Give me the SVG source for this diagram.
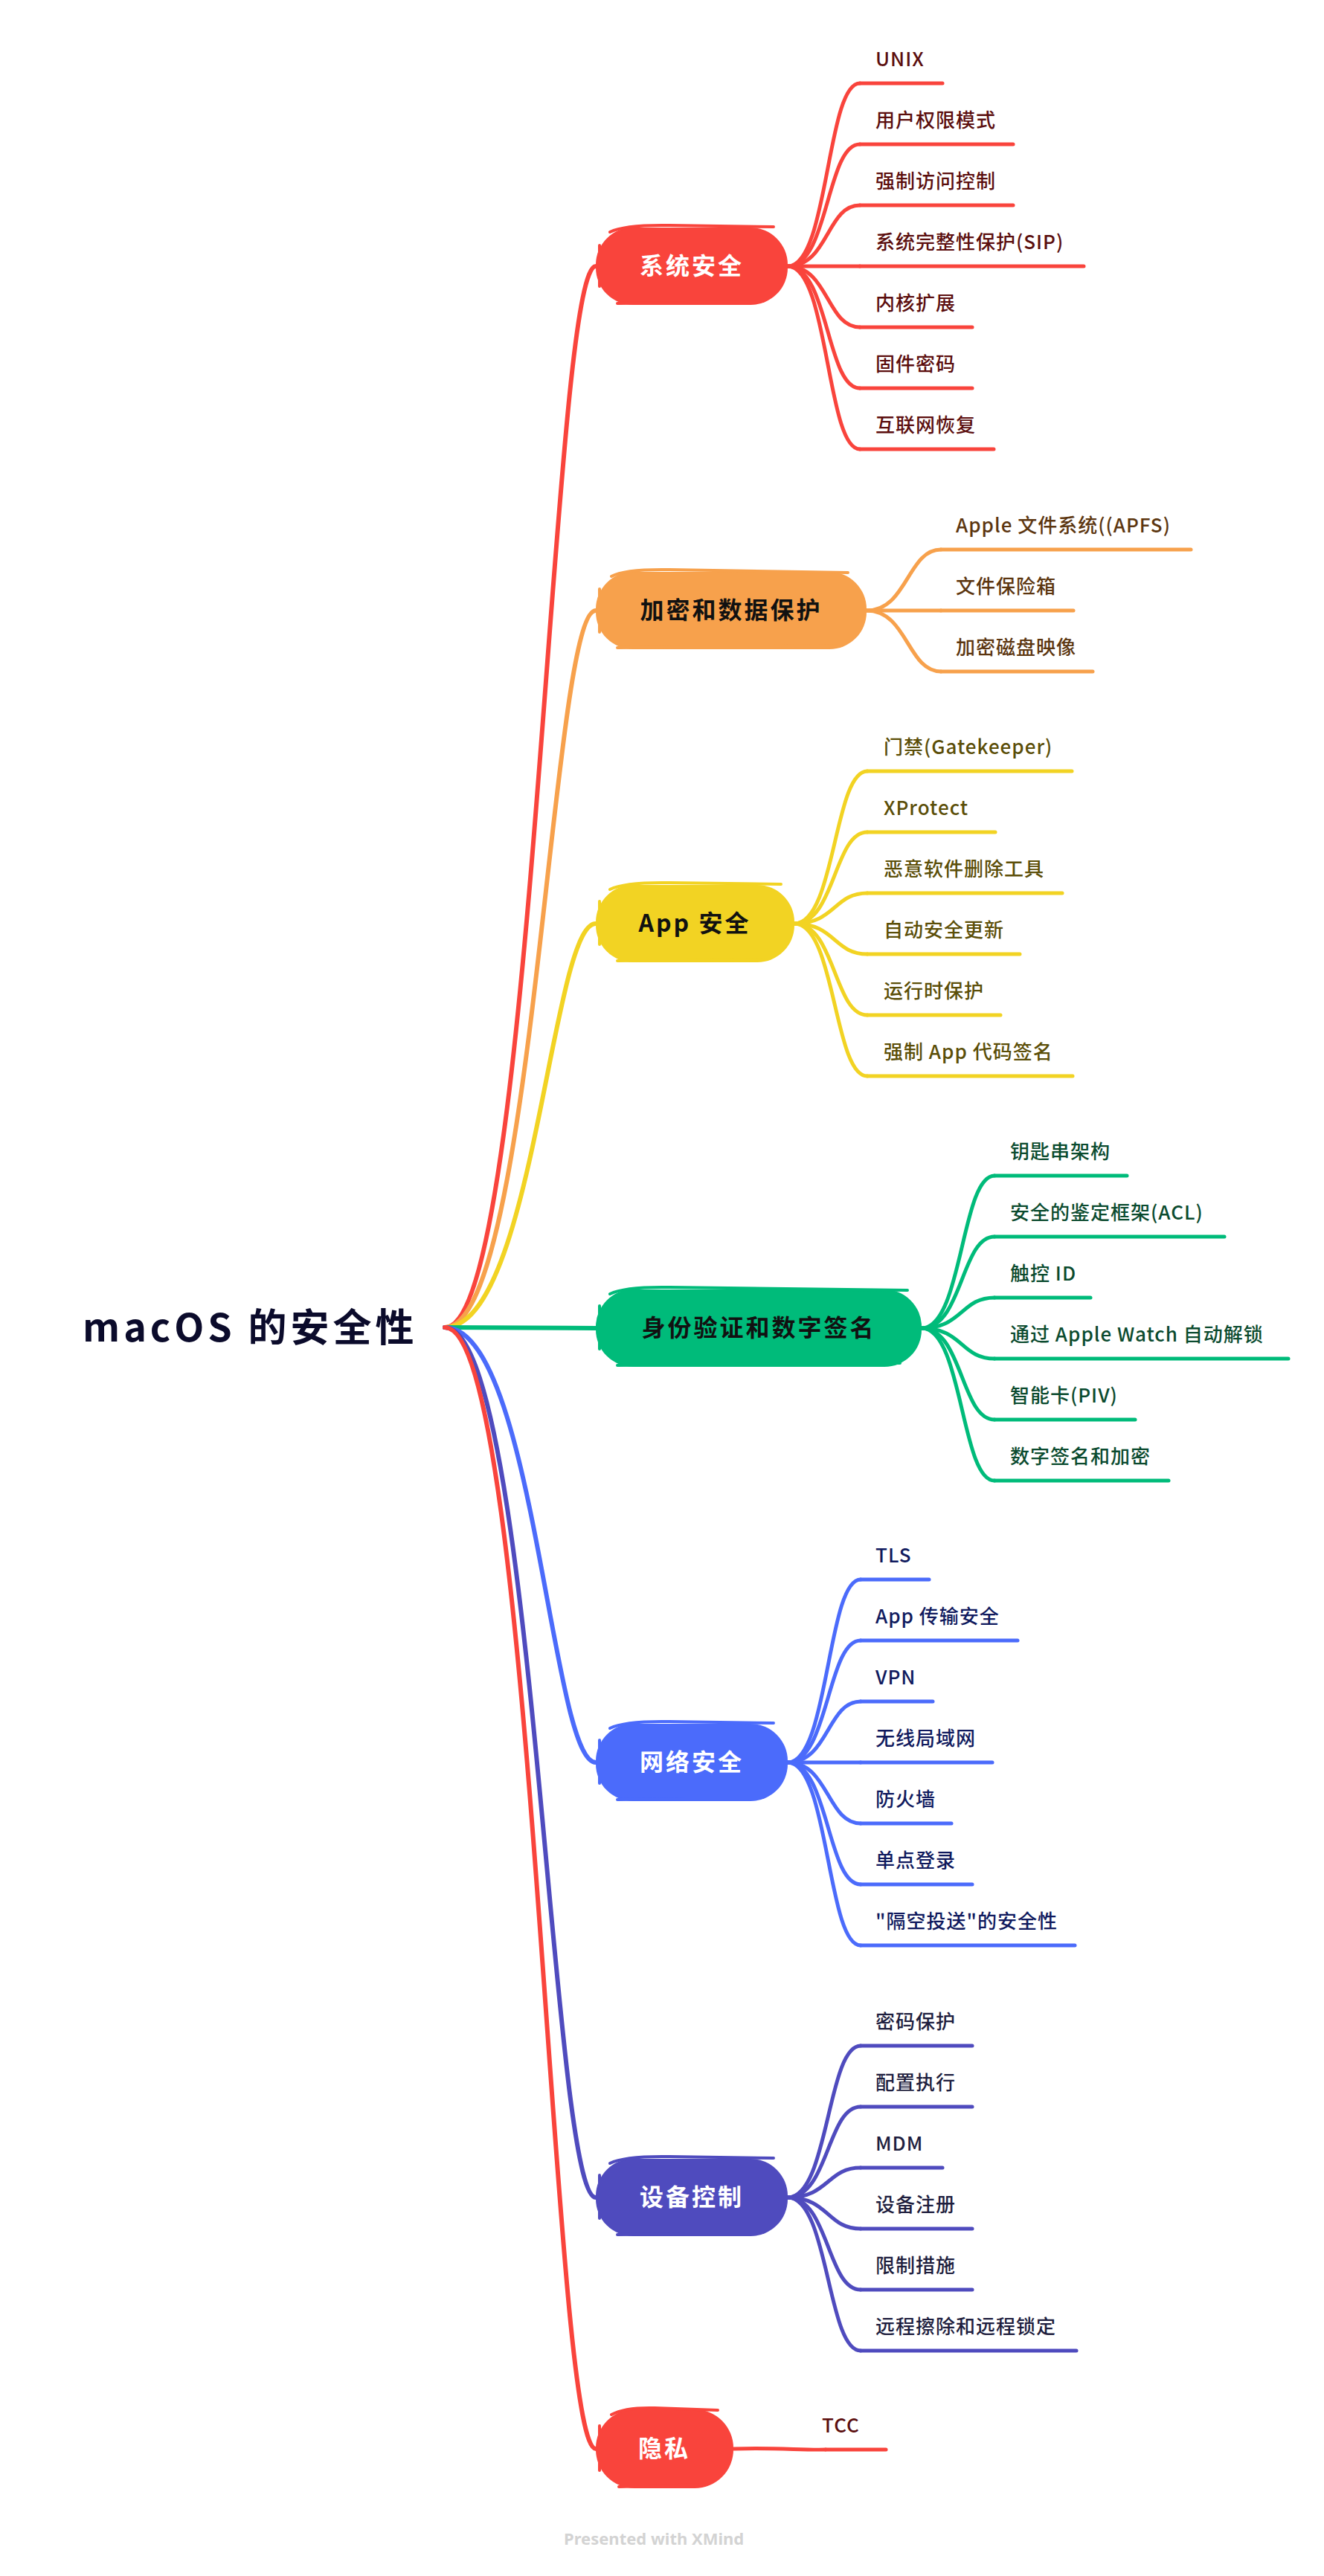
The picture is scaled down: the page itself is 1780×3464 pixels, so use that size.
<svg xmlns="http://www.w3.org/2000/svg" width="1780" height="3464" viewBox="0 0 1780 3464">
<style>
.bg{fill:#ffffff}
.main{fill:none;stroke-width:6;stroke-linecap:round;stroke-linejoin:round}
.sub{fill:none;stroke-width:5;stroke-linecap:round;stroke-linejoin:round}
.ul{stroke-width:5;stroke-linecap:round}
.sk{fill:none;stroke-width:4;stroke-linecap:round}
.nt{font-family:"Noto Sans CJK SC","Noto Sans",sans-serif;font-size:32px;font-weight:700;letter-spacing:3px;text-anchor:middle}
.ct{font-family:"Noto Sans CJK SC","Noto Sans",sans-serif;font-size:26px;font-weight:500;letter-spacing:1px}
.root{font-family:"Noto Sans CJK SC","Noto Sans",sans-serif;font-size:52px;font-weight:700;letter-spacing:5px;fill:#0b0b2b}
.foot{font-family:"Noto Sans","Noto Sans CJK SC",sans-serif;font-size:22px;font-weight:700;fill:#d3d3d3}
.red{stroke:#F9443C}.redf{fill:#F9443C}
.org{stroke:#F7A14C}.orgf{fill:#F7A14C}
.yel{stroke:#F2D323}.yelf{fill:#F2D323}
.grn{stroke:#00BB7A}.grnf{fill:#00BB7A}
.blu{stroke:#4B6BFB}.bluf{fill:#4B6BFB}
.ind{stroke:#4F4BBE}.indf{fill:#4F4BBE}
.tsys{fill:#5B0E0E}.tenc{fill:#5C3610}.tapp{fill:#5B4E08}.tid{fill:#0B4B2F}.tnet{fill:#101A5E}.tdev{fill:#1E1E3E}
.w{fill:#ffffff}.k{fill:#111111}
</style>
<rect class="bg" x="0" y="0" width="1780" height="3464"/>

<g id="connectors">
  <!-- root to main topics -->
  <path class="main red" d="M598,1785 C718,1785 741,358 801,358"/>
  <path class="main org" d="M598,1785 C718,1785 741,821 801,821"/>
  <path class="main yel" d="M598,1785 C718,1785 741,1242 801,1242"/>
  <path class="main grn" d="M598,1785 L801,1786"/>
  <path class="main blu" d="M598,1785 C718,1785 741,2370 801,2370"/>
  <path class="main ind" d="M598,1785 C718,1785 741,2955 801,2955"/>
  <path class="main red" d="M598,1785 C718,1785 741,3293 801,3293"/>

  <!-- system security -->
  <path class="sub red" d="M1059,358 C1114,358 1111,112 1156,112"/>
  <path class="sub red" d="M1059,358 C1114,358 1111,194 1156,194"/>
  <path class="sub red" d="M1059,358 C1114,358 1111,276 1156,276"/>
  <path class="sub red" d="M1059,358 L1156,358"/>
  <path class="sub red" d="M1059,358 C1114,358 1111,440 1156,440"/>
  <path class="sub red" d="M1059,358 C1114,358 1111,522 1156,522"/>
  <path class="sub red" d="M1059,358 C1114,358 1111,604 1156,604"/>

  <!-- encryption -->
  <path class="sub org" d="M1165,821 C1220,821 1220,739 1265,739"/>
  <path class="sub org" d="M1165,821 L1265,821"/>
  <path class="sub org" d="M1165,821 C1220,821 1220,903 1265,903"/>

  <!-- app security -->
  <path class="sub yel" d="M1068,1242 C1123,1242 1121,1037 1166,1037"/>
  <path class="sub yel" d="M1068,1242 C1123,1242 1121,1119 1166,1119"/>
  <path class="sub yel" d="M1068,1242 C1123,1242 1121,1201 1166,1201"/>
  <path class="sub yel" d="M1068,1242 C1123,1242 1121,1283 1166,1283"/>
  <path class="sub yel" d="M1068,1242 C1123,1242 1121,1365 1166,1365"/>
  <path class="sub yel" d="M1068,1242 C1123,1242 1121,1447 1166,1447"/>

  <!-- identity -->
  <path class="sub grn" d="M1239,1786 C1294,1786 1292,1581 1337,1581"/>
  <path class="sub grn" d="M1239,1786 C1294,1786 1292,1663 1337,1663"/>
  <path class="sub grn" d="M1239,1786 C1294,1786 1292,1745 1337,1745"/>
  <path class="sub grn" d="M1239,1786 C1294,1786 1292,1827 1337,1827"/>
  <path class="sub grn" d="M1239,1786 C1294,1786 1292,1909 1337,1909"/>
  <path class="sub grn" d="M1239,1786 C1294,1786 1292,1991 1337,1991"/>

  <!-- network -->
  <path class="sub blu" d="M1059,2370 C1114,2370 1112,2124 1157,2124"/>
  <path class="sub blu" d="M1059,2370 C1114,2370 1112,2206 1157,2206"/>
  <path class="sub blu" d="M1059,2370 C1114,2370 1112,2288 1157,2288"/>
  <path class="sub blu" d="M1059,2370 L1157,2370"/>
  <path class="sub blu" d="M1059,2370 C1114,2370 1112,2452 1157,2452"/>
  <path class="sub blu" d="M1059,2370 C1114,2370 1112,2534 1157,2534"/>
  <path class="sub blu" d="M1059,2370 C1114,2370 1112,2616 1157,2616"/>

  <!-- device -->
  <path class="sub ind" d="M1059,2955 C1114,2955 1112,2751 1157,2751"/>
  <path class="sub ind" d="M1059,2955 C1114,2955 1112,2833 1157,2833"/>
  <path class="sub ind" d="M1059,2955 C1114,2955 1112,2915 1157,2915"/>
  <path class="sub ind" d="M1059,2955 C1114,2955 1112,2997 1157,2997"/>
  <path class="sub ind" d="M1059,2955 C1114,2955 1112,3079 1157,3079"/>
  <path class="sub ind" d="M1059,2955 C1114,2955 1112,3161 1157,3161"/>

  <!-- privacy -->
  <path class="sub red" d="M986,3293 C1040,3291 1080,3295 1110,3294"/>
</g>

<g id="root">
  <text class="root" x="111" y="1804">macOS 的安全性</text>
</g>

<!-- main topics -->
<g id="n-system">
  <rect class="redf" x="801" y="306" width="258" height="104" rx="50"/>
  <path class="sk red" d="M820,312 Q840,302 900,303 L1040,305 M806,330 L806,385 M830,408 L1020,406"/>
  <text class="nt w" x="930" y="369">系统安全</text>
</g>
<g id="n-encrypt">
  <rect class="orgf" x="801" y="769" width="364" height="104" rx="50"/>
  <path class="sk org" d="M822,775 Q840,765 900,766 L1140,770 M806,792 L806,850 M830,871 L1130,868"/>
  <text class="nt k" x="983" y="832">加密和数据保护</text>
</g>
<g id="n-app">
  <rect class="yelf" x="801" y="1190" width="267" height="104" rx="50"/>
  <path class="sk yel" d="M820,1196 Q840,1186 900,1187 L1050,1189 M806,1212 L806,1270 M830,1292 L1030,1290"/>
  <text class="nt k" x="934" y="1253">App 安全</text>
</g>
<g id="n-identity">
  <rect class="grnf" x="801" y="1734" width="438" height="104" rx="50"/>
  <path class="sk grn" d="M820,1740 Q840,1730 900,1731 L1220,1735 M806,1756 L806,1814 M830,1836 L1210,1833"/>
  <text class="nt k" x="1020" y="1797">身份验证和数字签名</text>
</g>
<g id="n-network">
  <rect class="bluf" x="801" y="2318" width="258" height="104" rx="50"/>
  <path class="sk blu" d="M820,2324 Q840,2314 900,2315 L1040,2317 M806,2340 L806,2398 M830,2420 L1020,2418"/>
  <text class="nt w" x="930" y="2381">网络安全</text>
</g>
<g id="n-device">
  <rect class="indf" x="801" y="2903" width="258" height="104" rx="50"/>
  <path class="sk ind" d="M820,2909 Q840,2899 900,2900 L1040,2902 M806,2925 L806,2983 M830,3005 L1020,3003"/>
  <text class="nt w" x="930" y="2966">设备控制</text>
</g>
<g id="n-privacy">
  <rect class="redf" x="801" y="3240" width="185" height="106" rx="52"/>
  <path class="sk red" d="M822,3247 Q840,3237 880,3238 L965,3241 M806,3262 L806,3322 M832,3344 L950,3341"/>
  <text class="nt w" x="893" y="3304">隐私</text>
</g>

<!-- system children -->
<g id="c-unix"><line class="ul red" x1="1156" y1="112" x2="1267" y2="112"/><text class="ct tsys" x="1177" y="89">UNIX</text></g>
<g id="c-userperm"><line class="ul red" x1="1156" y1="194" x2="1362" y2="194"/><text class="ct tsys" x="1177" y="171">用户权限模式</text></g>
<g id="c-mac"><line class="ul red" x1="1156" y1="276" x2="1362" y2="276"/><text class="ct tsys" x="1177" y="253">强制访问控制</text></g>
<g id="c-sip"><line class="ul red" x1="1156" y1="358" x2="1457" y2="358"/><text class="ct tsys" x="1177" y="335">系统完整性保护(SIP)</text></g>
<g id="c-kext"><line class="ul red" x1="1156" y1="440" x2="1307" y2="440"/><text class="ct tsys" x="1177" y="417">内核扩展</text></g>
<g id="c-fwpw"><line class="ul red" x1="1156" y1="522" x2="1307" y2="522"/><text class="ct tsys" x="1177" y="499">固件密码</text></g>
<g id="c-netrec"><line class="ul red" x1="1156" y1="604" x2="1336" y2="604"/><text class="ct tsys" x="1177" y="581">互联网恢复</text></g>

<!-- encryption children -->
<g id="c-apfs"><line class="ul org" x1="1265" y1="739" x2="1601" y2="739"/><text class="ct tenc" x="1285" y="716">Apple 文件系统((APFS)</text></g>
<g id="c-filevault"><line class="ul org" x1="1265" y1="821" x2="1443" y2="821"/><text class="ct tenc" x="1285" y="798">文件保险箱</text></g>
<g id="c-dmg"><line class="ul org" x1="1265" y1="903" x2="1469" y2="903"/><text class="ct tenc" x="1285" y="880">加密磁盘映像</text></g>

<!-- app children -->
<g id="c-gatekeeper"><line class="ul yel" x1="1166" y1="1037" x2="1441" y2="1037"/><text class="ct tapp" x="1188" y="1014">门禁(Gatekeeper)</text></g>
<g id="c-xprotect"><line class="ul yel" x1="1166" y1="1119" x2="1338" y2="1119"/><text class="ct tapp" x="1188" y="1096">XProtect</text></g>
<g id="c-mrt"><line class="ul yel" x1="1166" y1="1201" x2="1428" y2="1201"/><text class="ct tapp" x="1188" y="1178">恶意软件删除工具</text></g>
<g id="c-autoupd"><line class="ul yel" x1="1166" y1="1283" x2="1371" y2="1283"/><text class="ct tapp" x="1188" y="1260">自动安全更新</text></g>
<g id="c-runtime"><line class="ul yel" x1="1166" y1="1365" x2="1345" y2="1365"/><text class="ct tapp" x="1188" y="1342">运行时保护</text></g>
<g id="c-codesign"><line class="ul yel" x1="1166" y1="1447" x2="1442" y2="1447"/><text class="ct tapp" x="1188" y="1424">强制 App 代码签名</text></g>

<!-- identity children -->
<g id="c-keychain"><line class="ul grn" x1="1337" y1="1581" x2="1515" y2="1581"/><text class="ct tid" x="1358" y="1558">钥匙串架构</text></g>
<g id="c-acl"><line class="ul grn" x1="1337" y1="1663" x2="1646" y2="1663"/><text class="ct tid" x="1358" y="1640">安全的鉴定框架(ACL)</text></g>
<g id="c-touchid"><line class="ul grn" x1="1337" y1="1745" x2="1466" y2="1745"/><text class="ct tid" x="1358" y="1722">触控 ID</text></g>
<g id="c-watch"><line class="ul grn" x1="1337" y1="1827" x2="1732" y2="1827"/><text class="ct tid" x="1358" y="1804">通过 Apple Watch 自动解锁</text></g>
<g id="c-piv"><line class="ul grn" x1="1337" y1="1909" x2="1526" y2="1909"/><text class="ct tid" x="1358" y="1886">智能卡(PIV)</text></g>
<g id="c-digsig"><line class="ul grn" x1="1337" y1="1991" x2="1571" y2="1991"/><text class="ct tid" x="1358" y="1968">数字签名和加密</text></g>

<!-- network children -->
<g id="c-tls"><line class="ul blu" x1="1157" y1="2124" x2="1249" y2="2124"/><text class="ct tnet" x="1177" y="2101">TLS</text></g>
<g id="c-ats"><line class="ul blu" x1="1157" y1="2206" x2="1368" y2="2206"/><text class="ct tnet" x="1177" y="2183">App 传输安全</text></g>
<g id="c-vpn"><line class="ul blu" x1="1157" y1="2288" x2="1254" y2="2288"/><text class="ct tnet" x="1177" y="2265">VPN</text></g>
<g id="c-wifi"><line class="ul blu" x1="1157" y1="2370" x2="1334" y2="2370"/><text class="ct tnet" x="1177" y="2347">无线局域网</text></g>
<g id="c-firewall"><line class="ul blu" x1="1157" y1="2452" x2="1279" y2="2452"/><text class="ct tnet" x="1177" y="2429">防火墙</text></g>
<g id="c-sso"><line class="ul blu" x1="1157" y1="2534" x2="1307" y2="2534"/><text class="ct tnet" x="1177" y="2511">单点登录</text></g>
<g id="c-airdrop"><line class="ul blu" x1="1157" y1="2616" x2="1445" y2="2616"/><text class="ct tnet" x="1177" y="2593">"隔空投送"的安全性</text></g>

<!-- device children -->
<g id="c-passcode"><line class="ul ind" x1="1157" y1="2751" x2="1307" y2="2751"/><text class="ct tdev" x="1177" y="2728">密码保护</text></g>
<g id="c-config"><line class="ul ind" x1="1157" y1="2833" x2="1307" y2="2833"/><text class="ct tdev" x="1177" y="2810">配置执行</text></g>
<g id="c-mdm"><line class="ul ind" x1="1157" y1="2915" x2="1267" y2="2915"/><text class="ct tdev" x="1177" y="2892">MDM</text></g>
<g id="c-enroll"><line class="ul ind" x1="1157" y1="2997" x2="1307" y2="2997"/><text class="ct tdev" x="1177" y="2974">设备注册</text></g>
<g id="c-restrict"><line class="ul ind" x1="1157" y1="3079" x2="1307" y2="3079"/><text class="ct tdev" x="1177" y="3056">限制措施</text></g>
<g id="c-wipe"><line class="ul ind" x1="1157" y1="3161" x2="1447" y2="3161"/><text class="ct tdev" x="1177" y="3138">远程擦除和远程锁定</text></g>

<!-- privacy child -->
<g id="c-tcc"><line class="ul red" x1="1110" y1="3294" x2="1191" y2="3294"/><text class="ct tsys" x="1105" y="3271">TCC</text></g>

<text class="foot" x="758" y="3422">Presented with XMind</text>
</svg>
